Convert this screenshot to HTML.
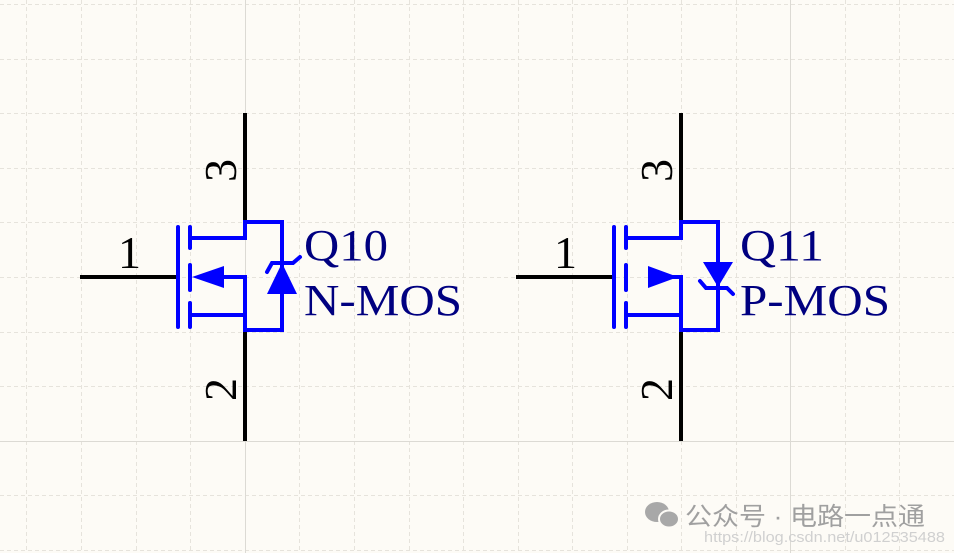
<!DOCTYPE html>
<html><head><meta charset="utf-8"><style>
html,body{margin:0;padding:0;background:#fdfbf6;}
svg{display:block}
</style></head><body>
<svg width="954" height="553" viewBox="0 0 954 553" xmlns="http://www.w3.org/2000/svg">
<rect width="954" height="553" fill="#fdfbf6"/>
<g stroke="#e6e3dc" stroke-width="1" stroke-dasharray="4,3">
<line x1="26.5" y1="0" x2="26.5" y2="553"/><line x1="81.5" y1="0" x2="81.5" y2="553"/><line x1="136.5" y1="0" x2="136.5" y2="553"/><line x1="190.5" y1="0" x2="190.5" y2="553"/>
<line x1="299.5" y1="0" x2="299.5" y2="553"/><line x1="354.5" y1="0" x2="354.5" y2="553"/><line x1="409.5" y1="0" x2="409.5" y2="553"/><line x1="463.5" y1="0" x2="463.5" y2="553"/><line x1="518.5" y1="0" x2="518.5" y2="553"/><line x1="572.5" y1="0" x2="572.5" y2="553"/><line x1="627.5" y1="0" x2="627.5" y2="553"/><line x1="681.5" y1="0" x2="681.5" y2="553"/><line x1="736.5" y1="0" x2="736.5" y2="553"/><line x1="845.5" y1="0" x2="845.5" y2="553"/><line x1="899.5" y1="0" x2="899.5" y2="553"/>
<line x1="0" y1="4.5" x2="954" y2="4.5"/><line x1="0" y1="59.5" x2="954" y2="59.5"/><line x1="0" y1="113.5" x2="954" y2="113.5"/><line x1="0" y1="168.5" x2="954" y2="168.5"/><line x1="0" y1="222.5" x2="954" y2="222.5"/><line x1="0" y1="277.5" x2="954" y2="277.5"/><line x1="0" y1="332.5" x2="954" y2="332.5"/><line x1="0" y1="386.5" x2="954" y2="386.5"/><line x1="0" y1="495.5" x2="954" y2="495.5"/><line x1="0" y1="550.5" x2="954" y2="550.5"/>
</g>
<g stroke="#dcdad4" stroke-width="1">
<line x1="245.5" y1="0" x2="245.5" y2="553"/><line x1="790.5" y1="0" x2="790.5" y2="553"/><line x1="0" y1="441.5" x2="954" y2="441.5"/>
</g>

<!-- Q10 -->
<g>
<g stroke="#000" stroke-width="4">
<line x1="245" y1="113" x2="245" y2="222"/><line x1="245" y1="330" x2="245" y2="441"/><line x1="80" y1="277" x2="178" y2="277"/>
</g>
<g stroke="#0000ff" stroke-width="4" fill="none" stroke-linecap="round">
<line x1="178" y1="227" x2="178" y2="327"/>
<line x1="190" y1="227" x2="190" y2="248"/><line x1="190" y1="265" x2="190" y2="290"/><line x1="190" y1="303" x2="190" y2="327"/>
<polyline points="190,238 245,238 245,222 282,222 282,330 245,330 245,277 220,277" stroke-linecap="butt"/>
<line x1="190" y1="315" x2="245" y2="315"/>
<polyline points="267,272 272,263 293,263 300,257"/>
</g>
<polygon points="192,277 224,266 224,288" fill="#0000ff"/>
<polygon points="282,263 267,294 297,294" fill="#0000ff"/>
<text x="304" y="260" font-family="Liberation Serif, serif" font-size="44" fill="#000080" textLength="84" lengthAdjust="spacingAndGlyphs">Q10</text>
<text x="304" y="315" font-family="Liberation Serif, serif" font-size="44" fill="#000080" textLength="158" lengthAdjust="spacingAndGlyphs">N-MOS</text>
<text x="118" y="268" font-family="Liberation Serif, serif" font-size="46" fill="#000">1</text>
<text transform="translate(236,182) rotate(-90)" font-family="Liberation Serif, serif" font-size="46" fill="#000">3</text>
<text transform="translate(236,401) rotate(-90)" font-family="Liberation Serif, serif" font-size="46" fill="#000">2</text>
</g>

<!-- Q11 -->
<g transform="translate(436,0)">
<g stroke="#000" stroke-width="4">
<line x1="245" y1="113" x2="245" y2="222"/><line x1="245" y1="330" x2="245" y2="441"/><line x1="80" y1="277" x2="178" y2="277"/>
</g>
<g stroke="#0000ff" stroke-width="4" fill="none" stroke-linecap="round">
<line x1="178" y1="227" x2="178" y2="327"/>
<line x1="190" y1="227" x2="190" y2="248"/><line x1="190" y1="265" x2="190" y2="290"/><line x1="190" y1="303" x2="190" y2="327"/>
<polyline points="190,238 245,238 245,222 282,222 282,330 245,330 245,277 215,277" stroke-linecap="butt"/>
<line x1="190" y1="315" x2="245" y2="315"/>
<polyline points="264,281 270,288 291,288 297,294"/>
</g>
<polygon points="242,277 212,266 212,288" fill="#0000ff"/>
<polygon points="282,287 267,262 297,262" fill="#0000ff"/>
<text x="304" y="260" font-family="Liberation Serif, serif" font-size="44" fill="#000080" textLength="84" lengthAdjust="spacingAndGlyphs">Q11</text>
<text x="304" y="315" font-family="Liberation Serif, serif" font-size="44" fill="#000080" textLength="150" lengthAdjust="spacingAndGlyphs">P-MOS</text>
<text x="118" y="268" font-family="Liberation Serif, serif" font-size="46" fill="#000">1</text>
<text transform="translate(236,182) rotate(-90)" font-family="Liberation Serif, serif" font-size="46" fill="#000">3</text>
<text transform="translate(236,401) rotate(-90)" font-family="Liberation Serif, serif" font-size="46" fill="#000">2</text>
</g>

<!-- watermark -->
<g fill="#a8a8a8">
<ellipse cx="657" cy="512" rx="12" ry="10"/>
<ellipse cx="669" cy="519" rx="10" ry="8.5" stroke="#fdfbf6" stroke-width="2"/>
</g>
<text x="685" y="525" font-family="Liberation Sans, Noto Sans CJK SC, sans-serif" font-size="25" fill="#a0a0a0" textLength="240" lengthAdjust="spacingAndGlyphs">公众号 · 电路一点通</text>
<text x="704" y="542" font-family="Liberation Sans, sans-serif" font-size="15" fill="#d0d0d0" textLength="241" lengthAdjust="spacingAndGlyphs">https://blog.csdn.net/u012535488</text>
</svg>
</body></html>
